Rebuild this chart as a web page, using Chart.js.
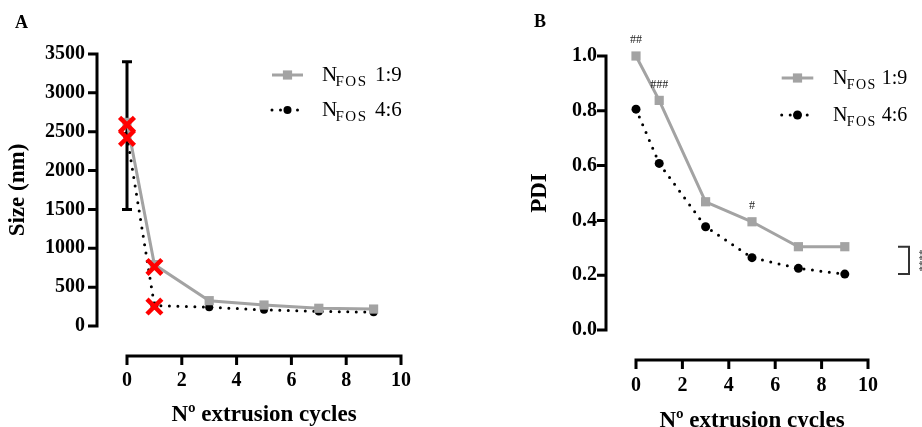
<!DOCTYPE html>
<html><head><meta charset="utf-8">
<script src="https://cdn.jsdelivr.net/npm/chart.js@4.4.0/dist/chart.umd.min.js"></script>
<style>
html,body{margin:0;padding:0;background:#fff;width:922px;height:427px;overflow:hidden}
.p{position:absolute;top:0;height:427px;width:461px}
#wa{left:0}
#wb{left:461px}
canvas{display:block}
</style></head><body>
<div class="p" id="wa"><canvas id="ca" width="461" height="427"></canvas></div>
<div class="p" id="wb"><canvas id="cb" width="461" height="427"></canvas></div>
<script>
// ---------- data ----------
const cycles = [0, 1, 3, 5, 7, 9];
const seriesLabels = ['N_FOS 1:9', 'N_FOS 4:6'];
// Panel A: size (nm)
const sizeNfos19 = [2620, 790, 326, 270, 228, 218];
const sizeNfos46 = [2450, 265, 241, 208, 187, 178];
const sizeErrX = [0];
const sizeErrLow = [1500];
const sizeErrHigh = [3400];
const redMarkX = [0, 0, 1, 1];
const redMarkY = [2590, 2420, 760, 250];
const sizeTicks = [0, 500, 1000, 1500, 2000, 2500, 3000, 3500];
const cycleTicks = [0, 2, 4, 6, 8, 10];
// Panel B: PDI
const pdiNfos19 = [1.0, 0.838, 0.468, 0.395, 0.304, 0.304];
const pdiNfos46 = [0.806, 0.608, 0.377, 0.264, 0.225, 0.204];
const pdiTicks = [0.0, 0.2, 0.4, 0.6, 0.8, 1.0];
const hashX = [0, 1, 5];
const hashText = ['##', '###', '#'];
const sigText = '****';
const panelLabels = ['A', 'B'];
const xTitle = 'Nº extrusion cycles';
const yTitleA = 'Size (nm)';
const yTitleB = 'PDI';

// ---------- styling ----------
const SERIF = "'Liberation Serif', 'Times New Roman', serif";
const GREY = '#a3a3a3';
const pts = (xs, ys) => xs.map((x, i) => ({x, y: ys[i]}));

// ---------- plugins ----------
const prismAxes = {
  id: 'prismAxes',
  beforeDatasetsDraw(chart, args, o) {
    const {ctx, chartArea: ca, scales: {x, y}} = chart;
    ctx.save();
    ctx.strokeStyle = '#000';
    ctx.lineWidth = 3;
    ctx.lineCap = 'butt';
    const ax = ca.left - o.gap;
    const ay = ca.bottom + o.gap;
    ctx.beginPath();
    ctx.moveTo(ax, y.getPixelForValue(y.max) - 1.5);
    ctx.lineTo(ax, y.getPixelForValue(y.min) + 1.5);
    y.ticks.forEach(t => {
      const py = y.getPixelForValue(t.value);
      ctx.moveTo(ax, py); ctx.lineTo(ax - o.tick, py);
    });
    ctx.moveTo(x.getPixelForValue(x.min) - 1.5, ay);
    ctx.lineTo(x.getPixelForValue(x.max) + 1.5, ay);
    x.ticks.forEach(t => {
      const px = x.getPixelForValue(t.value);
      ctx.moveTo(px, ay); ctx.lineTo(px, ay + o.tick);
    });
    ctx.stroke();
    ctx.restore();
  }
};

const errorBars = {
  id: 'errorBars',
  beforeDatasetsDraw(chart, args, o) {
    if (!o.xs) return;
    const {ctx, scales: {x, y}} = chart;
    ctx.save();
    ctx.strokeStyle = '#000';
    ctx.lineWidth = 3;
    o.xs.forEach((xv, i) => {
      const px = x.getPixelForValue(xv);
      const pl = y.getPixelForValue(o.low[i]);
      const ph = y.getPixelForValue(o.high[i]);
      ctx.beginPath();
      ctx.moveTo(px, pl); ctx.lineTo(px, ph);
      ctx.moveTo(px - o.cap, pl); ctx.lineTo(px + o.cap, pl);
      ctx.moveTo(px - o.cap, ph); ctx.lineTo(px + o.cap, ph);
      ctx.stroke();
    });
    ctx.restore();
  }
};

const serifLegend = {
  id: 'serifLegend',
  afterDatasetsDraw(chart, args, o) {
    const ctx = chart.ctx;
    o.items.forEach((dsIndex, r) => {
      const ds = chart.data.datasets[dsIndex];
      const y = o.rows[r];
      ctx.save();
      ctx.strokeStyle = ds.borderColor;
      ctx.lineWidth = ds.borderWidth;
      ctx.setLineDash(ds.borderDash || []);
      ctx.lineCap = ds.borderCapStyle || 'butt';
      ctx.beginPath(); ctx.moveTo(o.x1, y); ctx.lineTo(o.x2, y); ctx.stroke();
      ctx.setLineDash([]);
      const mx = (o.x1 + o.x2) / 2;
      ctx.fillStyle = ds.pointBackgroundColor || ds.backgroundColor;
      if (ds.pointStyle === 'rect') {
        const s = ds.pointRadius * Math.SQRT1_2;
        ctx.fillRect(mx - s, y - s, 2 * s, 2 * s);
      } else {
        ctx.beginPath(); ctx.arc(mx, y, ds.pointRadius, 0, 2 * Math.PI); ctx.fill();
      }
      const m = /^(\w)_(\w+)\s*(.*)$/.exec(ds.label);
      ctx.fillStyle = '#000';
      ctx.textAlign = 'left';
      ctx.textBaseline = 'alphabetic';
      const base = y + o.baseDy;
      ctx.font = `${o.size}px ${SERIF}`;
      ctx.fillText(m[1], o.textX, base);
      ctx.font = `${o.subSize}px ${SERIF}`;
      ctx.letterSpacing = o.subSpacing + 'px';
      ctx.fillText(m[2], o.textX + o.subDx, base + o.subDy);
      ctx.letterSpacing = '0px';
      ctx.font = `${o.size}px ${SERIF}`;
      ctx.fillText(m[3], o.textX + o.restDx, base);
      ctx.restore();
    });
  }
};

const panelTag = {
  id: 'panelTag',
  afterDraw(chart, args, o) {
    const ctx = chart.ctx;
    ctx.save();
    ctx.font = `bold 18px ${SERIF}`;
    ctx.fillStyle = '#000';
    ctx.textAlign = 'center';
    ctx.textBaseline = 'middle';
    ctx.fillText(o.text, o.x, o.y);
    ctx.restore();
  }
};

const sigMarks = {
  id: 'sigMarks',
  afterDatasetsDraw(chart, args, o) {
    if (!o.hashX) return;
    const {ctx, scales: {x, y}} = chart;
    const ref = chart.data.datasets[o.refDs].data;
    ctx.save();
    ctx.fillStyle = '#222';
    ctx.font = `12px ${SERIF}`;
    ctx.textAlign = 'center';
    ctx.textBaseline = 'middle';
    o.hashX.forEach((xv, i) => {
      const p = ref.find(d => d.x === xv);
      ctx.fillText(o.hashText[i], x.getPixelForValue(xv), y.getPixelForValue(p.y) - o.hashDy);
    });
    // bracket between last points of the two series
    const a = chart.data.datasets[o.refDs].data.slice(-1)[0];
    const b = chart.data.datasets[o.otherDs].data.slice(-1)[0];
    const ya = y.getPixelForValue(a.y), yb = y.getPixelForValue(b.y);
    ctx.strokeStyle = '#333';
    ctx.lineWidth = 2;
    ctx.beginPath();
    ctx.moveTo(o.bx1, ya); ctx.lineTo(o.bx2, ya); ctx.lineTo(o.bx2, yb); ctx.lineTo(o.bx1, yb);
    ctx.stroke();
    ctx.translate(o.bx2 + 10, (ya + yb) / 2);
    ctx.rotate(Math.PI / 2);
    ctx.font = `11px ${SERIF}`;
    ctx.fillStyle = '#333';
    ctx.fillText(o.sigText, 0, 0);
    ctx.restore();
  }
};

Chart.register(prismAxes, errorBars, serifLegend, panelTag, sigMarks);

function fixTicks(list) {
  return scale => { scale.ticks = list.map(v => ({value: v})); };
}

function makeChart(id, cfg) {
  return new Chart(document.getElementById(id), {
    type: 'line',
    data: {datasets: cfg.datasets},
    options: {
      responsive: false,
      devicePixelRatio: 1,
      animation: false,
      events: [],
      layout: {padding: cfg.padding},
      scales: {
        x: {
          type: 'linear', min: 0, max: 10,
          afterBuildTicks: fixTicks(cycleTicks),
          afterFit: s => { s.height = cfg.xHeight; },
          grid: {display: false, drawTicks: false}, border: {display: false},
          ticks: {color: '#000', padding: cfg.xPad, font: {family: SERIF, size: 20, weight: 'bold'}},
          title: {display: true, text: xTitle, color: '#000',
                  font: {family: SERIF, size: 23, weight: 'bold', lineHeight: 1},
                  padding: {top: 0, bottom: cfg.xTitlePad}}
        },
        y: {
          type: 'linear', min: cfg.yMin, max: cfg.yMax,
          afterBuildTicks: fixTicks(cfg.yTicks),
          afterFit: s => { s.width = cfg.yWidth; },
          grid: {display: false, drawTicks: false}, border: {display: false},
          ticks: {color: '#000', padding: cfg.yPad, font: {family: SERIF, size: 20, weight: 'bold'},
                  callback: cfg.yFmt},
          title: {display: true, text: cfg.yTitle, color: '#000',
                  font: {family: SERIF, size: 23, weight: 'bold', lineHeight: 1},
                  padding: {top: cfg.yTitlePad, bottom: 0}}
        }
      },
      plugins: {
        legend: {display: false},
        tooltip: {enabled: false},
        prismAxes: {gap: 30, tick: 9},
        errorBars: cfg.errorBars || {},
        serifLegend: cfg.legend,
        panelTag: cfg.tag,
        sigMarks: cfg.sig || {}
      }
    }
  });
}

const greyDs = (data) => ({
  label: seriesLabels[0], data, clip: false,
  borderColor: GREY, backgroundColor: GREY, pointBackgroundColor: GREY,
  borderWidth: 3, pointStyle: 'rect', pointRadius: 6.5, pointBorderWidth: 0, tension: 0
});
const blackDs = (data, r) => ({
  label: seriesLabels[1], data, clip: false,
  borderColor: '#000', backgroundColor: '#000', pointBackgroundColor: '#000',
  borderWidth: 3, borderDash: [0, 8.5], borderCapStyle: 'round',
  pointStyle: 'circle', pointRadius: r, pointBorderWidth: 0, tension: 0
});

makeChart('ca', {
  datasets: [
    {label: 'marks', data: pts(redMarkX, redMarkY), clip: false, showLine: false,
     pointStyle: 'crossRot', pointRadius: 10.5, pointBorderWidth: 4.5,
     pointBorderColor: '#ff0000', borderColor: '#ff0000', backgroundColor: '#ff0000'},
    greyDs(pts(cycles, sizeNfos19)),
    blackDs(pts(cycles, sizeNfos46), 4)
  ],
  padding: {left: 0, top: 50, right: 60, bottom: 0},
  xHeight: 101, yWidth: 127, xPad: 43, yPad: 42,
  yMin: 0, yMax: 3500, yTicks: sizeTicks, yFmt: v => String(v),
  yTitle: yTitleA, yTitlePad: 6.5, xTitlePad: 0.5,
  errorBars: {xs: sizeErrX, low: sizeErrLow, high: sizeErrHigh, cap: 5},
  legend: {items: [1, 2], rows: [75, 110], x1: 272, x2: 303, textX: 322,
           size: 21, subSize: 15, subSpacing: 1.5, subDx: 13.5, subDy: 5, restDx: 53, baseDy: 5.5},
  tag: {text: panelLabels[0], x: 21.5, y: 23.5}
});

makeChart('cb', {
  datasets: [
    greyDs(pts(cycles, pdiNfos19)),
    blackDs(pts(cycles, pdiNfos46), 4.5)
  ],
  padding: {left: 0, top: 56, right: 10, bottom: 0},
  xHeight: 97, yWidth: 175, xPad: 44, yPad: 39,
  yMin: 0, yMax: 1, yTicks: pdiTicks, yFmt: v => Number(v).toFixed(1),
  yTitle: yTitleB, yTitlePad: 67.5, xTitlePad: -5.5,
  legend: {items: [0, 1], rows: [78, 115], x1: 320.7, x2: 352.3, textX: 372,
           size: 20, subSize: 14, subSpacing: 1.5, subDx: 13.7, subDy: 5, restDx: 48.7, baseDy: 6},
  tag: {text: panelLabels[1], x: 79, y: 22.5},
  sig: {refDs: 0, otherDs: 1, hashX, hashText, hashDy: 16, bx1: 437, bx2: 448, sigText}
});
</script>
</body></html>
